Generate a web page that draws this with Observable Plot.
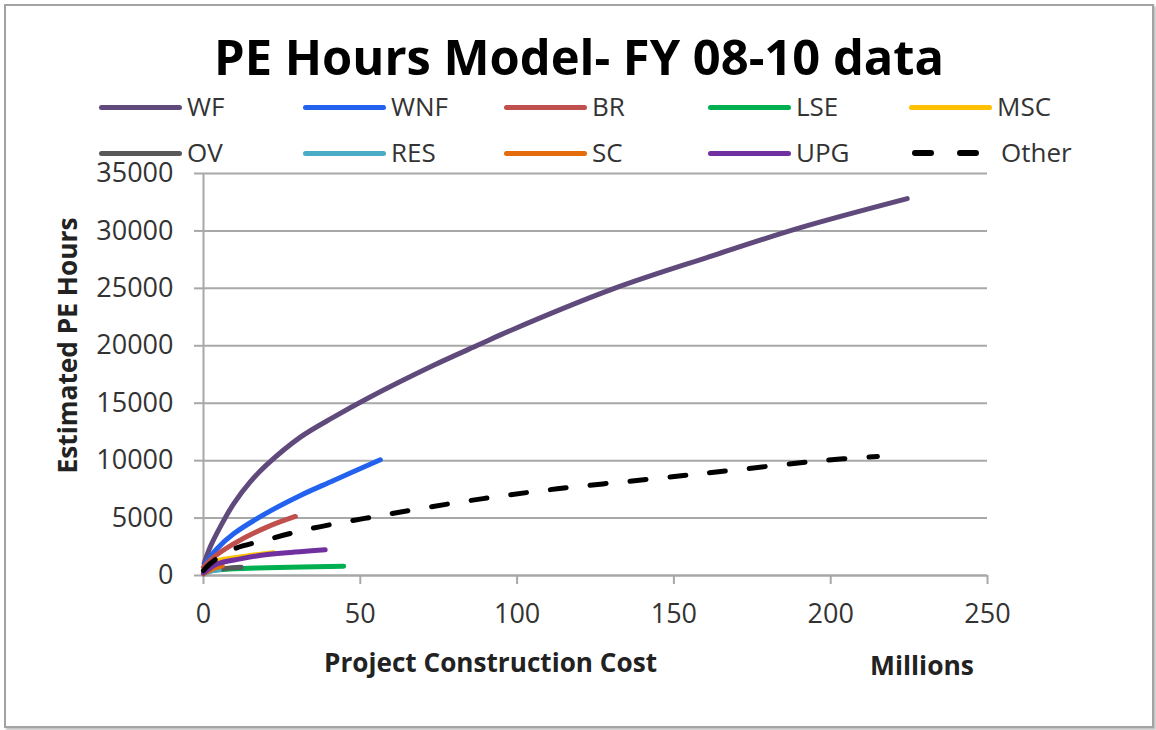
<!DOCTYPE html>
<html><head><meta charset="utf-8">
<script src="https://cdn.jsdelivr.net/npm/d3@7"></script>
<script src="https://cdn.jsdelivr.net/npm/@observablehq/plot@0.6"></script>
<style>
html,body{margin:0;padding:0;background:#fff;}
#wrap{position:relative;width:1156px;height:730px;overflow:hidden;font-family:"Open Sans",sans-serif;background:#fff;}
#wrap svg{position:absolute;left:0;top:0;}
.t{position:absolute;white-space:nowrap;transform-origin:left center;line-height:1;}
.sw{position:absolute;height:5px;border-radius:3px;}
#frame{position:absolute;left:4px;top:4px;width:1146px;height:720px;border:2px solid #a3a3a3;box-shadow:2px 2px 2px rgba(0,0,0,0.25);pointer-events:none;}
</style></head><body><div id="wrap"></div>
<script>
// ---- data ----
const seriesNames = ["WF","WNF","BR","LSE","MSC","OV","RES","SC","UPG","Other"];
const WF    = [[0.2,1050],[2.1,2460],[5.3,4210],[9.6,6240],[14.9,8150],[20.2,9650],[30.9,12050],[41.5,13790],[52.1,15390],[73.4,18300],[88.3,20150],[94.7,20950],[130.8,24970],[162.7,27870],[189.3,30200],[224.4,32810]];
const WNF   = [[0.5,1020],[4.3,2330],[9.6,3630],[20.2,5450],[30.9,6970],[41.5,8270],[56.4,10080]];
const BR    = [[0,720],[3.2,1590],[9.6,2760],[20.2,4210],[29.3,5140]];
const LSE   = [[0,260],[2,420],[9.6,580],[20.2,670],[44.7,810]];
const MSC   = [[0,300],[3.2,1150],[11.7,1620],[22.3,1990]];
const OV    = [[0,200],[3,450],[7,620],[12,720]];
const RES   = [[0,100],[2,350],[5,500]];
const SC    = [[0,150],[3,600],[6,850]];
const UPG   = [[0,200],[4.3,1000],[11.7,1450],[17,1700],[25.5,1950],[38.8,2240]];
const Other = [[0,435],[2.1,1020],[8.5,2180],[20.2,3110],[34.0,4070],[58.5,5310],[85.1,6530],[112.8,7550],[143.6,8420],[170.2,9210],[197.8,10020],[214.9,10370]];
const seriesData = [WF,WNF,BR,LSE,MSC,OV,RES,SC,UPG,Other];
const xTicks = [0,50,100,150,200,250];
const yTicks = [0,5000,10000,15000,20000,25000,30000,35000];

// ---- style config ----
const seriesColors = ["#604A7B","#2262EE","#C0504D","#00B050","#FFC000","#595959","#4BACC6","#E46C0A","#7030A0","#000000"];
const dashed = {"Other":"16,24"};
const gridColor = "#a8a8a8";

const rows = [];
seriesData.forEach((pts,i)=>pts.forEach(([x,y])=>rows.push({series:seriesNames[i],x,y})));

const wrap = document.getElementById("wrap");

const lineMarks = seriesNames.map((name,i)=>Plot.line(rows.filter(r=>r.series===name),{
  x:"x", y:"y", stroke:seriesColors[i], strokeWidth:5, curve:"catmull-rom",
  strokeLinecap:"round", strokeLinejoin:"round",
  strokeDasharray: dashed[name] || null
}));

const plot = Plot.plot({
  width:1156, height:730,
  marginLeft:203, marginRight:169, marginTop:173, marginBottom:155,
  style:{fontFamily:"'Open Sans',sans-serif", fontSize:"27px", color:"#333", background:"transparent"},
  x:{domain:[0,250], label:null},
  y:{domain:[0,35000], label:null},
  marks:[
    Plot.gridY(yTicks,{stroke:gridColor, strokeOpacity:1, strokeWidth:2}),
    Plot.ruleX([0],{stroke:gridColor, strokeWidth:2}),
    Plot.ruleY([0],{stroke:gridColor, strokeWidth:2}),
    Plot.axisX(xTicks,{tickSize:9, tickPadding:19, stroke:gridColor, strokeWidth:2, fill:"#333", tickFormat:d=>String(d)}),
    Plot.axisY(yTicks,{tickSize:9, tickPadding:21, stroke:gridColor, strokeWidth:2, fill:"#333", tickFormat:d=>String(d)}),
    ...lineMarks
  ]
});
wrap.appendChild(plot);

// ---- text overlays ----
function addText(txt, {cx, left, cy, size, weight=400, color="#333", w=null, rotate=false}){
  const el = document.createElement("div");
  el.className = "t";
  el.textContent = txt;
  el.style.fontSize = size+"px";
  el.style.fontWeight = weight;
  el.style.color = color;
  wrap.appendChild(el);
  const r = el.getBoundingClientRect();
  const k = w ? w / r.width : 1;
  if (rotate){
    el.style.transformOrigin = "center center";
    el.style.left = (cx - r.width/2)+"px";
    el.style.top = (cy - r.height/2)+"px";
    el.style.transform = `rotate(-90deg) scaleX(${k})`;
  } else {
    const fw = r.width*k;
    el.style.left = (left!=null ? left : cx - fw/2)+"px";
    el.style.top = (cy - 0.53*size)+"px";
    el.style.transform = `scaleX(${k})`;
  }
  return el;
}

addText("PE Hours Model- FY 08-10 data",{cx:579, cy:58, size:48, weight:700, color:"#000", w:730});
addText("Project Construction  Cost",{cx:490, cy:662, size:27, weight:700, color:"#222", w:333});
addText("Millions",{cx:922, cy:665, size:27, weight:700, color:"#222", w:104});
addText("Estimated PE Hours",{cx:66, cy:345, size:27, weight:700, color:"#222", w:256, rotate:true});

// ---- legend ----
const colX = [99,303,504,708,909];
const rowY = [107,153];
seriesNames.forEach((name,i)=>{
  const c = i%5, r = Math.floor(i/5);
  const x0 = colX[c], y0 = rowY[r];
  if (dashed[name]){
    [0,45].forEach(off=>{
      const d = document.createElement("div");
      d.className="sw";
      Object.assign(d.style,{left:(x0+3+off)+"px", top:(y0-3)+"px", width:"22px", height:"6px", background:seriesColors[i]});
      wrap.appendChild(d);
    });
    addText(name,{left:x0+92, cy:y0, size:26});
  } else {
    const d = document.createElement("div");
    d.className="sw";
    Object.assign(d.style,{left:x0+"px", top:(y0-2.5)+"px", width:"83px", background:seriesColors[i]});
    wrap.appendChild(d);
    addText(name,{left:x0+88, cy:y0, size:26});
  }
});

const fr = document.createElement("div");
fr.id = "frame";
wrap.appendChild(fr);
</script>
</body></html>
